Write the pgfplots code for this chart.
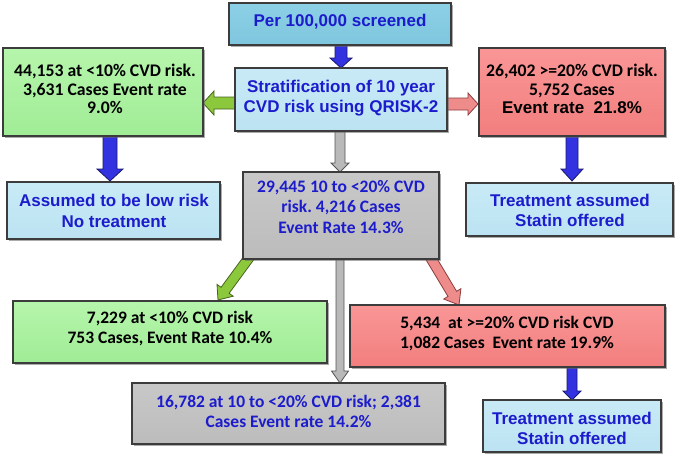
\documentclass[border=0pt]{standalone}
\usepackage{pgfplots}
\pgfplotsset{compat=1.18}
\usepackage{fontspec}
\setmainfont{Liberation Sans}
\newfontfamily\carlito{Carlito}
\frenchspacing
\definecolor{txtblue}{RGB}{28,28,205}
\definecolor{perblue}{RGB}{126,198,222}
\definecolor{perblueT}{RGB}{140,208,230}
\definecolor{ltblue}{RGB}{188,227,242}
\definecolor{ltblueT}{RGB}{200,234,246}
\definecolor{boxgreen}{RGB}{160,236,150}
\definecolor{boxgreenT}{RGB}{182,245,172}
\definecolor{boxred}{RGB}{242,126,126}
\definecolor{boxredT}{RGB}{250,150,150}
\definecolor{boxgray}{RGB}{188,188,188}
\definecolor{boxgrayT}{RGB}{200,200,200}
\definecolor{bord}{RGB}{60,60,60}
\definecolor{arrblue}{RGB}{50,50,225}
\definecolor{arrblueD}{RGB}{25,25,110}
\definecolor{arrgreen}{RGB}{140,200,60}
\definecolor{arrgreenD}{RGB}{70,100,30}
\definecolor{arrred}{RGB}{238,140,140}
\definecolor{arrredD}{RGB}{140,60,60}
\definecolor{arrgray}{RGB}{185,185,185}
\definecolor{arrgrayD}{RGB}{85,85,85}
\newcommand{\flowbox}[6]{%
  \addplot[draw=none,fill=black!60,opacity=0.55,xshift=1.8pt,yshift=-1.8pt] coordinates {(#1,#2) (#3,#2) (#3,#4) (#1,#4)} -- cycle;
  \addplot[draw=bord,line width=1.2pt,top color=#6,bottom color=#5] coordinates {(#1,#2) (#3,#2) (#3,#4) (#1,#4)} -- cycle;
}
\begin{document}
\begin{tikzpicture}
\begin{axis}[width=677pt,height=455pt,scale only axis,
  xmin=0,xmax=677,ymin=0,ymax=455,y dir=reverse,hide axis,clip=false]
% arrows (drawn first so boxes cover tails)
\addplot[fill=arrblue,draw=arrblueD,line width=0.8pt] coordinates {(335,45) (347,45) (347,58) (352,58) (341,68) (330,58) (335,58)} -- cycle;
\addplot[fill=arrgreen,draw=arrgreenD,line width=0.8pt] coordinates {(235,97) (235,109) (214,109) (214,115) (203,103) (214,91) (214,97)} -- cycle;
\addplot[fill=arrred,draw=arrredD,line width=0.8pt] coordinates {(446,98) (446,110) (468,110) (468,115) (478,104) (468,93) (468,98)} -- cycle;
\addplot[fill=arrgray,draw=arrgrayD,line width=0.8pt] coordinates {(335,131) (345,131) (345,163) (349,163) (340,172) (331,163) (335,163)} -- cycle;
\addplot[fill=arrblue,draw=arrblueD,line width=0.8pt] coordinates {(103,136) (117,136) (117,169) (123,169) (110,181) (97,169) (103,169)} -- cycle;
\addplot[fill=arrblue,draw=arrblueD,line width=0.8pt] coordinates {(566,136) (578,136) (578,169) (583,169) (572,181) (561,169) (566,169)} -- cycle;
\addplot[fill=arrgreen,draw=arrgreenD,line width=0.8pt] coordinates {(255.0,258.0) (229.1,293.3) (233.2,296.2) (218,300) (217.0,284.4) (221.1,287.3) (247.0,252.0)} -- cycle;
\addplot[fill=arrred,draw=arrredD,line width=0.8pt] coordinates {(433.3,252.4) (456.6,291.3) (460.9,288.7) (459,305) (443.7,299.0) (448.0,296.4) (424.7,257.6)} -- cycle;
\addplot[fill=arrgray,draw=arrgrayD,line width=0.8pt] coordinates {(336,259) (344,259) (344,371) (348.5,371) (340,383) (331.5,371) (336,371)} -- cycle;
\addplot[fill=arrblue,draw=arrblueD,line width=0.8pt] coordinates {(567,367) (577,367) (577,391) (581,391) (572,400) (563,391) (567,391)} -- cycle;
% boxes
\flowbox{229}{3}{451}{45}{perblue}{perblueT}
\flowbox{235}{68}{447}{131}{ltblue}{ltblueT}
\flowbox{3}{48}{203}{136}{boxgreen}{boxgreenT}
\flowbox{479}{48}{665}{136}{boxred}{boxredT}
\flowbox{7}{182}{220}{239}{ltblue}{ltblueT}
\flowbox{466}{183}{673}{236}{ltblue}{ltblueT}
\flowbox{243}{172}{439}{259}{boxgray}{boxgrayT}
\flowbox{13}{301}{327}{363}{boxgreen}{boxgreenT}
\flowbox{350}{305}{665}{367}{boxred}{boxredT}
\flowbox{132}{383}{445}{444}{boxgray}{boxgrayT}
\flowbox{483}{400}{661}{452}{ltblue}{ltblueT}
% texts
\node[font=\fontsize{17}{20}\selectfont\bfseries,text=txtblue,align=center] at (axis cs:340,22) {Per 100,000 screened};
\node[font=\fontsize{17}{20}\selectfont\bfseries,text=txtblue,align=center] at (axis cs:341,98) {Stratification of 10 year\\CVD risk using QRISK-2};
\node[font=\carlito\fontsize{17.7}{18.5}\selectfont\bfseries,text=black,align=center] at (axis cs:105,89) {44,153 at <10\% CVD risk.\\3,631 Cases Event rate\\9.0\%};
\node[font=\carlito\fontsize{17.7}{18.5}\selectfont\bfseries,text=black,align=center] at (axis cs:572,89) {26,402 >=20\% CVD risk.\\5,752 Cases\\{\rmfamily\fontsize{17}{18.5}\selectfont Event rate\ \ 21.8\%}};
\node[font=\fontsize{17}{21}\selectfont\bfseries,text=txtblue,align=center] at (axis cs:114,211) {Assumed to be low risk\\No treatment};
\node[font=\fontsize{17}{20}\selectfont\bfseries,text=txtblue,align=center] at (axis cs:570,210) {Treatment assumed\\Statin offered};
\node[font=\carlito\fontsize{17.5}{20.5}\selectfont\bfseries,text=txtblue,align=center] at (axis cs:341,207) {29,445 10 to <20\% CVD\\risk. 4,216 Cases\\Event Rate 14.3\%};
\node[font=\carlito\fontsize{17.5}{20}\selectfont\bfseries,text=black,align=center] at (axis cs:170,329) {7,229 at <10\% CVD risk\\753 Cases, Event Rate 10.4\%};
\node[font=\carlito\fontsize{17.5}{20}\selectfont\bfseries,text=black,align=center] at (axis cs:507,334) {5,434\ \ at >=20\% CVD risk CVD\\1,082 Cases\ \ Event rate 19.9\%};
\node[font=\carlito\fontsize{17.5}{20}\selectfont\bfseries,text=txtblue,align=center] at (axis cs:288.5,411) {16,782 at 10 to <20\% CVD risk; 2,381\\Cases Event rate 14.2\%};
\node[font=\fontsize{17}{20}\selectfont\bfseries,text=txtblue,align=center] at (axis cs:572,428) {Treatment assumed\\Statin offered};
\end{axis}
\pgfresetboundingbox
\path[use as bounding box] (current axis.south west) rectangle (current axis.north east);
\end{tikzpicture}
\end{document}
